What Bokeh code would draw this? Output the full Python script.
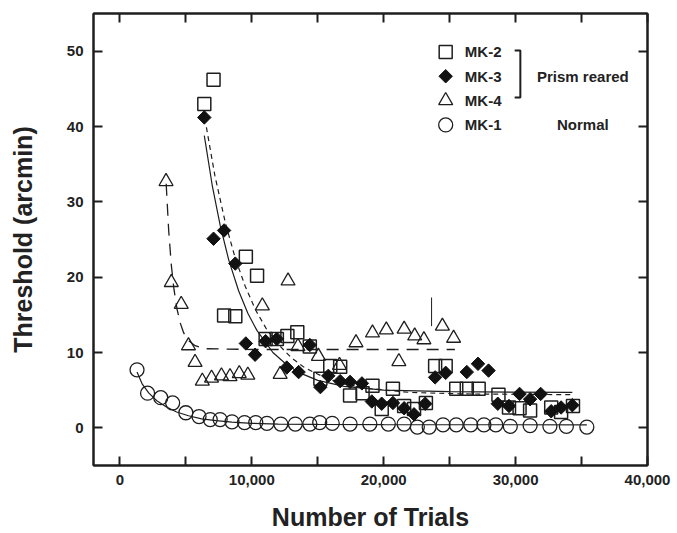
import math

from bokeh.core.properties import value
from bokeh.embed import file_html
from bokeh.models import FixedTicker, LinearAxis, NumeralTickFormatter, Range1d
from bokeh.plotting import figure
from bokeh.resources import INLINE

# ---- measured thresholds (arcmin) against cumulative number of trials ----
mk2_trials = [6400, 7100, 7900, 8750, 9550, 10400, 11050, 11900, 12700, 13450,
              14400, 15200, 15950, 16700, 17450, 18400, 19150, 19850, 20700, 21550,
              22300, 23200, 23900, 24700, 25500, 26300, 27200, 28700, 29500, 30300,
              31100, 32700, 33450, 34350]
mk2_thresh = [43.0, 46.2, 14.9, 14.8, 22.7, 20.2, 11.8, 11.8, 12.2, 12.7,
              10.8, 6.5, 8.2, 8.1, 4.3, 4.6, 5.6, 2.5, 5.2, 2.9,
              2.5, 3.3, 8.2, 8.2, 5.2, 5.2, 5.2, 4.4, 2.7, 2.6,
              2.3, 2.7, 2.1, 2.9]

mk3_trials = [6400, 7100, 7900, 8750, 9550, 10250, 11050, 11900, 12650, 13550,
              14400, 15200, 15800, 16700, 17450, 18350, 19100, 19850, 20700, 21550,
              22300, 23150, 23900, 24700, 26300, 27150, 27950, 28650, 29500, 30300,
              31100, 31900, 32700, 33450, 34300]
mk3_thresh = [41.2, 25.1, 26.2, 21.8, 11.2, 9.7, 11.5, 11.8, 8.0, 7.4,
              11.0, 5.4, 6.9, 6.2, 6.1, 5.9, 3.5, 3.2, 3.3, 2.6,
              1.8, 3.2, 6.7, 7.3, 7.4, 8.5, 7.6, 3.2, 2.9, 4.5,
              3.8, 4.5, 2.2, 2.7, 3.0]

mk4_trials = [3500, 3900, 4650, 5200, 5700, 6250, 6950, 7700, 8350, 9050,
              9700, 10800, 12150, 12750, 13500, 15050, 16650, 17900, 19150, 20200,
              21150, 21550, 22350, 23050, 24450, 25300]
mk4_thresh = [32.7, 19.3, 16.4, 10.9, 8.7, 6.2, 6.6, 6.9, 6.8, 7.2,
              7.0, 16.2, 7.1, 19.5, 10.8, 9.5, 8.3, 11.3, 12.6, 13.0,
              8.8, 13.1, 12.2, 11.7, 13.5, 11.9]

mk1_trials = [1300, 2100, 3100, 4000, 5000, 6000, 6850, 7600, 8500, 9450,
              10300, 11150, 12200, 13300, 14400, 15150, 16100, 17450, 18950, 20350,
              21550, 22550, 23450, 24500, 25500, 26600, 27600, 28500, 29600, 31100,
              32600, 33850, 35400]
mk1_thresh = [7.7, 4.6, 4.0, 3.3, 2.0, 1.5, 1.1, 1.1, 0.8, 0.7,
              0.7, 0.6, 0.5, 0.5, 0.5, 0.7, 0.6, 0.5, 0.5, 0.5,
              0.5, 0.1, 0.1, 0.4, 0.4, 0.4, 0.4, 0.4, 0.2, 0.3,
              0.2, 0.2, 0.1]

# ---- fitted learning curves ----
mk2_fit_trials = [6560, 7200, 8000, 8750, 9500, 10300, 11150, 12000, 13000, 14000,
                  15500, 17000, 19000, 22000, 26000, 34300]
mk2_fit_thresh = [39.9, 33.5, 27.2, 22.5, 18.8, 15.6, 13.0, 11.1, 9.3, 8.0,
                  6.7, 5.8, 5.2, 4.7, 4.5, 4.4]

mk3_fit_trials = [6400, 7000, 7600, 8250, 9000, 9700, 10400, 11600, 12500, 13500,
                  15000, 17000, 20000, 25000, 34300]
mk3_fit_thresh = [38.8, 32.2, 26.9, 22.3, 18.2, 15.2, 12.9, 10.0, 8.6, 7.4,
                  6.3, 5.5, 5.0, 4.8, 4.7]

mk4_fit_trials = [3510, 3700, 3900, 4100, 4340, 4600, 4840, 5200, 5700, 6500,
                  10000, 25400]
mk4_fit_thresh = [32.4, 26.2, 21.6, 18.4, 15.7, 13.8, 12.6, 11.6, 10.9, 10.5,
                  10.4, 10.4]

mk1_fit_trials = [1300, 1700, 2200, 2800, 3500, 4300, 5200, 6200, 7300, 8500,
                  10000, 12000, 15000, 20000, 35400]
mk1_fit_thresh = [7.4, 5.8, 4.6, 3.6, 2.8, 2.1, 1.6, 1.2, 0.95, 0.75,
                  0.6, 0.5, 0.45, 0.42, 0.4]

# single vertical mark drawn near 23,600 trials
mark_trials = [23630]
mark_low = [13.5]
mark_high = [17.3]

x_ticks = [0, 10000, 20000, 30000, 40000]
x_minor = [5000, 15000, 25000, 35000]
y_ticks = [0, 10, 20, 30, 40, 50]

legend_names = ["MK-2", "MK-3", "MK-4", "MK-1"]
group_names = ["Prism reared", "Normal"]

INK = "#1e1e1e"
FONT = value("Liberation Sans")

p = figure(width=677, height=533,
           x_range=Range1d(-2000, 40000), y_range=Range1d(-5, 55),
           output_backend="svg", toolbar_location=None,
           min_border_left=93, min_border_right=30,
           min_border_top=13, min_border_bottom=68)
p.xgrid.visible = False
p.ygrid.visible = False
p.outline_line_color = INK
p.outline_line_width = 2
p.background_fill_color = "white"
p.border_fill_color = "white"


def style_axis(ax, show_labels):
    ax.axis_line_color = INK
    ax.axis_line_width = 2
    ax.major_tick_line_color = INK
    ax.major_tick_line_width = 2
    ax.minor_tick_line_color = INK
    ax.minor_tick_line_width = 2
    ax.major_tick_in = 9
    ax.major_tick_out = 0
    ax.minor_tick_in = 9
    ax.minor_tick_out = 0
    ax.major_label_text_font = "Liberation Sans"
    ax.major_label_text_font_style = "bold"
    ax.major_label_text_font_size = "15px" if show_labels else "0px"
    ax.major_label_text_color = "#222222"
    ax.major_label_standoff = 10 if show_labels else 0
    ax.axis_label_text_font = "Liberation Sans"
    ax.axis_label_text_font_style = "bold"
    ax.axis_label_text_font_size = "25px"
    ax.axis_label_text_color = "#222222"


xa = p.xaxis[0]
xa.ticker = FixedTicker(ticks=x_ticks, minor_ticks=x_minor)
xa.formatter = NumeralTickFormatter(format="0,0")
xa.axis_label = "Number of Trials"
style_axis(xa, True)
xa.major_label_standoff = 9
xa.axis_label_standoff = 15

ya = p.yaxis[0]
ya.ticker = FixedTicker(ticks=y_ticks, minor_ticks=[])
ya.axis_label = "Threshold (arcmin)"
style_axis(ya, True)
ya.axis_label_standoff = 27

top = LinearAxis(ticker=FixedTicker(ticks=x_ticks, minor_ticks=x_minor),
                 major_label_overrides={t: "" for t in x_ticks})
style_axis(top, False)
p.add_layout(top, "above")

right = LinearAxis(ticker=FixedTicker(ticks=y_ticks, minor_ticks=[]),
                   major_label_overrides={t: "" for t in y_ticks})
style_axis(right, False)
p.add_layout(right, "right")

# fitted curves
p.line(mk1_fit_trials, mk1_fit_thresh, line_color=INK, line_width=1.2)
p.line(mk3_fit_trials, mk3_fit_thresh, line_color=INK, line_width=1.2)
p.line(mk2_fit_trials, mk2_fit_thresh, line_color=INK, line_width=1.2, line_dash="5 4")
p.line(mk4_fit_trials, mk4_fit_thresh, line_color=INK, line_width=1.3, line_dash="12 8")
p.segment(x0=mark_trials, y0=mark_low, x1=mark_trials, y1=mark_high,
          line_color=INK, line_width=1)

# data points
p.scatter(mk1_trials, mk1_thresh, marker="circle", size=14,
          fill_alpha=0, line_color=INK, line_width=1.3)
p.scatter(mk4_trials, mk4_thresh, marker="triangle", size=14,
          fill_alpha=0, line_color=INK, line_width=1.3)
p.scatter(mk2_trials, mk2_thresh, marker="square", size=13,
          fill_alpha=0, line_color=INK, line_width=1.5)
p.scatter(mk3_trials, mk3_thresh, marker="square", angle=math.pi / 4, size=9.5,
          fill_color="#111111", line_color="#111111", line_width=1)

# key in the upper right corner
leg_x = 24700
leg_text_x = 26150
leg_top = 49.9
leg_step = 3.23
rows = [leg_top - i * leg_step for i in range(4)]
p.scatter([leg_x], [rows[0]], marker="square", size=13, fill_alpha=0,
          line_color=INK, line_width=1.5)
p.scatter([leg_x], [rows[1]], marker="square", angle=math.pi / 4, size=9.5,
          fill_color="#111111", line_color="#111111")
p.scatter([leg_x], [rows[2]], marker="triangle", size=14, fill_alpha=0,
          line_color=INK, line_width=1.3)
p.scatter([leg_x], [rows[3]], marker="circle", size=14, fill_alpha=0,
          line_color=INK, line_width=1.3)
p.text(x=[leg_text_x] * 4, y=rows, text=legend_names,
       text_font=FONT, text_font_style="bold", text_font_size="15px",
       text_color="#222222", text_align="left", text_baseline="middle")

br_x = 30360
br_arm = 29930
br_top = rows[0] + 0.2
br_bot = rows[2] + 0.4
p.line([br_arm, br_x, br_x, br_arm], [br_top, br_top, br_bot, br_bot],
       line_color=INK, line_width=2)
p.text(x=[35100, 35100], y=[rows[1], rows[3]], text=group_names,
       text_font=FONT, text_font_style="bold", text_font_size="15px",
       text_color="#222222", text_align="center", text_baseline="middle")

open("out.html", "w").write(file_html(p, INLINE))
